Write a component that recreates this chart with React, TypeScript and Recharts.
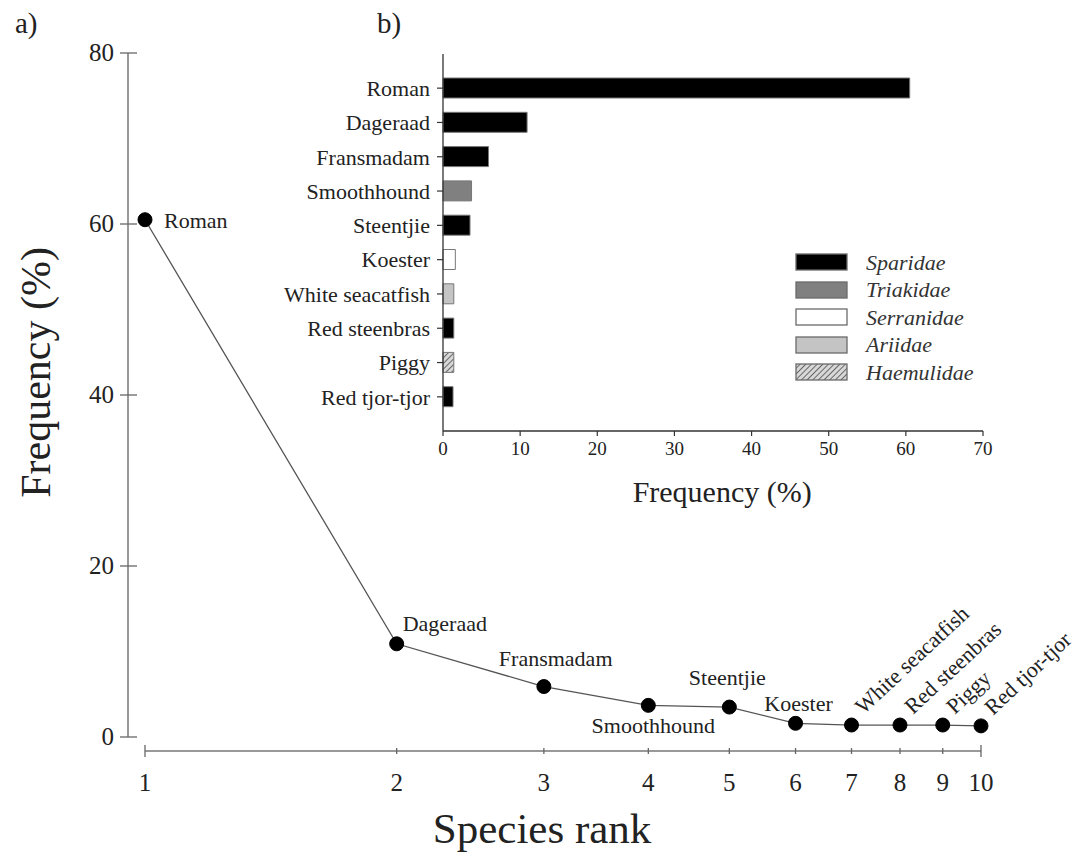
import { ComposedChart, Line, XAxis, YAxis, BarChart, Bar, Cell, Legend, LabelList, Label } from 'recharts'

const FONT = '"Liberation Serif", "Times New Roman", serif'

// species ranked by frequency of occurrence
const species = [
  'Roman',
  'Dageraad',
  'Fransmadam',
  'Smoothhound',
  'Steentjie',
  'Koester',
  'White seacatfish',
  'Red steenbras',
  'Piggy',
  'Red tjor-tjor',
]
const ranks = [1, 2, 3, 4, 5, 6, 7, 8, 9, 10]
const frequency = [60.5, 10.9, 5.9, 3.7, 3.5, 1.6, 1.4, 1.4, 1.4, 1.3]
const speciesFamily = [
  'Sparidae',
  'Sparidae',
  'Sparidae',
  'Triakidae',
  'Sparidae',
  'Serranidae',
  'Ariidae',
  'Sparidae',
  'Haemulidae',
  'Sparidae',
]
const families = ['Sparidae', 'Triakidae', 'Serranidae', 'Ariidae', 'Haemulidae']

const rankTicks = [1, 2, 3, 4, 5, 6, 7, 8, 9, 10]
const freqTicks = [0, 20, 40, 60, 80]
const insetTicks = [0, 10, 20, 30, 40, 50, 60, 70]

const familyFill: Record<string, string> = {
  Sparidae: '#000000',
  Triakidae: '#808080',
  Serranidae: '#ffffff',
  Ariidae: '#c4c4c4',
  Haemulidae: 'url(#hatch)',
}

// where each point label sits relative to its dot
const labelPlacement: Record<string, { dx: number; dy: number; anchor: 'start' | 'middle' | 'end'; angle?: number }> = {
  Roman: { dx: 19, dy: 8, anchor: 'start' },
  Dageraad: { dx: 6, dy: -13, anchor: 'start' },
  Fransmadam: { dx: -45, dy: -21, anchor: 'start' },
  Smoothhound: { dx: 5, dy: 28, anchor: 'middle' },
  Steentjie: { dx: -2, dy: -22, anchor: 'middle' },
  Koester: { dx: 3, dy: -12, anchor: 'middle' },
  'White seacatfish': { dx: 12, dy: -10, anchor: 'start', angle: -43 },
  'Red steenbras': { dx: 13, dy: -10, anchor: 'start', angle: -43 },
  Piggy: { dx: 12, dy: -10, anchor: 'start', angle: -43 },
  'Red tjor-tjor': { dx: 12, dy: -10, anchor: 'start', angle: -43 },
}

const rankData = ranks.map((rank, i) => ({ rank, freq: frequency[i], name: species[i] }))
const barData = species.map((name, i) => ({ name, freq: frequency[i], family: speciesFamily[i] }))

const X_AXIS_DROP = 14
const Y_AXIS_SHIFT = 17

function RankTick(props: any) {
  const { x, y, payload, index } = props
  const ay = y + X_AXIS_DROP
  const end = index === 0 || index === rankTicks.length - 1
  const h = end ? 6 : 3
  return (
    <g>
      <line x1={x} x2={x} y1={ay - h} y2={ay + h} stroke="#666" strokeWidth={1.3} />
      <text x={x} y={ay + 40} textAnchor="middle" fontSize={25} fontFamily={FONT} fill="#222">
        {payload.value}
      </text>
    </g>
  )
}

function FreqTick(props: any) {
  const { x, y, payload } = props
  const ax = x - Y_AXIS_SHIFT
  return (
    <g>
      <line x1={ax - 8} x2={ax + 9} y1={y} y2={y} stroke="#666" strokeWidth={1.3} />
      <text x={ax - 14} y={y + 8} textAnchor="end" fontSize={25} fontFamily={FONT} fill="#222">
        {payload.value}
      </text>
    </g>
  )
}

function PointLabel(props: any) {
  const { x, y, value } = props
  const p = labelPlacement[value]
  if (!p) return null
  const tx = x + p.dx
  const ty = y + p.dy
  return (
    <text
      x={tx}
      y={ty}
      textAnchor={p.anchor}
      fontSize={22}
      fontFamily={FONT}
      fill="#222"
      transform={p.angle ? `rotate(${p.angle} ${tx} ${ty})` : undefined}
    >
      {value}
    </text>
  )
}

function HatchDefs({ id }: { id: string }) {
  return (
    <defs>
      <pattern id={id} width={4} height={4} patternUnits="userSpaceOnUse" patternTransform="rotate(45)">
        <rect width={4} height={4} fill="#d8d8d8" />
        <line x1={0} y1={0} x2={0} y2={4} stroke="#4a4a4a" strokeWidth={1.6} />
      </pattern>
    </defs>
  )
}

function FamilyLegend() {
  return (
    <div style={{ fontFamily: FONT }}>
      {families.map((f) => (
        <div key={f} style={{ display: 'flex', alignItems: 'center', height: 27.5 }}>
          <svg width={54} height={19} style={{ display: 'block' }}>
            <HatchDefs id="hatch-legend" />
            <rect
              x={1}
              y={1}
              width={51}
              height={16}
              fill={f === 'Haemulidae' ? 'url(#hatch-legend)' : familyFill[f]}
              stroke="#6a6a6a"
              strokeWidth={1.3}
            />
          </svg>
          <span style={{ marginLeft: 17, fontSize: 22, fontStyle: 'italic', color: '#333' }}>{f}</span>
        </div>
      ))}
    </div>
  )
}

export default function App() {
  return (
    <div style={{ position: 'absolute', left: 0, top: 0, width: 1078, height: 854, background: '#fff', fontFamily: FONT }}>
      <div style={{ position: 'absolute', left: 15, top: 7, fontSize: 29, color: '#222' }}>a)</div>
      <div style={{ position: 'absolute', left: 377, top: 7, fontSize: 29, color: '#222' }}>b)</div>

      {/* a) rank-frequency curve */}
      <div style={{ position: 'absolute', left: 0, top: 0 }}>
        <ComposedChart width={1078} height={854} data={rankData} margin={{ top: 53, right: 97, bottom: 0, left: 0 }}>
          <XAxis
            dataKey="rank"
            type="number"
            scale="log"
            domain={[1, 10]}
            ticks={rankTicks}
            interval={0}
            height={117}
            tickSize={0}
            tickMargin={0}
            tickLine={false}
            axisLine={{ stroke: '#777', strokeWidth: 1.5, transform: `translate(0,${X_AXIS_DROP})` }}
            tick={<RankTick />}
          >
            <Label
              content={(p: any) => {
                const vb = p.viewBox
                return (
                  <text x={vb.x + vb.width * 0.475} y={vb.y + 106} textAnchor="middle" fontSize={43} fontFamily={FONT} fill="#222">
                    Species rank
                  </text>
                )
              }}
            />
          </XAxis>
          <YAxis
            type="number"
            domain={[0, 80]}
            ticks={freqTicks}
            interval={0}
            width={145}
            tickSize={0}
            tickMargin={0}
            tickLine={false}
            axisLine={{ stroke: '#777', strokeWidth: 1.5, transform: `translate(-${Y_AXIS_SHIFT},0)` }}
            tick={<FreqTick />}
          >
            <Label
              content={(p: any) => {
                const vb = p.viewBox
                const cx = 36
                const cy = vb.y + vb.height * 0.467
                return (
                  <text
                    x={cx}
                    y={cy}
                    textAnchor="middle"
                    dominantBaseline="central"
                    fontSize={42}
                    fontFamily={FONT}
                    fill="#222"
                    transform={`rotate(-90 ${cx} ${cy})`}
                  >
                    Frequency (%)
                  </text>
                )
              }}
            />
          </YAxis>
          <Line
            dataKey="freq"
            type="linear"
            stroke="#555"
            strokeWidth={1.3}
            dot={{ r: 7, fill: '#000', stroke: '#000', strokeWidth: 1 }}
            isAnimationActive={false}
          >
            <LabelList dataKey="name" content={<PointLabel />} />
          </Line>
        </ComposedChart>
      </div>

      {/* b) inset bar chart by family */}
      <div style={{ position: 'absolute', left: 240, top: 40 }}>
        <BarChart
          width={780}
          height={490}
          data={barData}
          layout="vertical"
          margin={{ top: 14, right: 37, bottom: 0, left: 0 }}
          barCategoryGap={0}
        >
          <HatchDefs id="hatch" />
          <XAxis
            type="number"
            domain={[0, 70]}
            ticks={insetTicks}
            interval={0}
            height={99}
            tickSize={5}
            tickMargin={6}
            axisLine={{ stroke: '#333', strokeWidth: 1.3 }}
            tickLine={{ stroke: '#333', strokeWidth: 1.2 }}
            tick={{ fontSize: 19, fontFamily: FONT, fill: '#222' }}
          >
            <Label
              content={(p: any) => {
                const vb = p.viewBox
                return (
                  <text x={vb.x + vb.width * 0.517} y={vb.y + 71} textAnchor="middle" fontSize={30} fontFamily={FONT} fill="#222">
                    Frequency (%)
                  </text>
                )
              }}
            />
          </XAxis>
          <YAxis
            type="category"
            dataKey="name"
            width={203}
            interval={0}
            padding={{ top: 17, bottom: 17 }}
            tickSize={6}
            tickMargin={7}
            axisLine={{ stroke: '#333', strokeWidth: 1.3 }}
            tickLine={{ stroke: '#333', strokeWidth: 1.2 }}
            tick={{ fontSize: 22, fontFamily: FONT, fill: '#222' }}
          />
          <Legend
            layout="vertical"
            align="center"
            verticalAlign="middle"
            content={() => <FamilyLegend />}
            wrapperStyle={{ left: 555, top: 209, width: 220, height: 140 }}
          />
          <Bar dataKey="freq" barSize={20} stroke="#777" strokeWidth={1} isAnimationActive={false}>
            {barData.map((d) => (
              <Cell key={d.name} fill={familyFill[d.family]} />
            ))}
          </Bar>
        </BarChart>
      </div>
    </div>
  )
}
